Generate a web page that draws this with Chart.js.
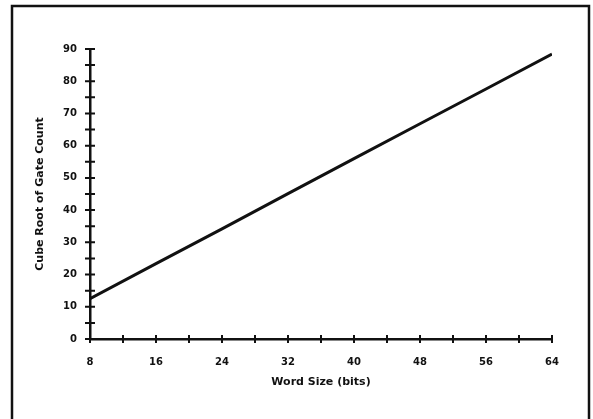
<!DOCTYPE html>
<html>
<head>
<meta charset="utf-8">
<script src="https://cdn.jsdelivr.net/npm/chart.js@4"></script>
<style>
  html, body { margin: 0; padding: 0; background: #fff; }
  #wrap { width: 593px; height: 419px; position: relative; }
</style>
</head>
<body>
<div id="wrap"><canvas id="chart" width="593" height="419"></canvas></div>
<script>
// ── data ────────────────────────────────────────────────────────────────
const wordSizes  = [8, 16, 24, 32, 40, 48, 56, 64];
const cubeRoots  = [12.5, 23.4, 34.2, 45.1, 56.0, 66.8, 77.6, 88.4];
const xLabelVals = [8, 16, 24, 32, 40, 48, 56, 64];
const yLabelVals = [0, 10, 20, 30, 40, 50, 60, 70, 80, 90];

const ink = '#111';
const tickFont = { family: 'DejaVu Sans', size: 10, weight: 'bold' };
const titleFont = { family: 'DejaVu Sans', size: 11, weight: 'bold' };

// frame round the whole figure
const framePlugin = {
  id: 'frame',
  beforeDraw(chart) {
    const c = chart.ctx;
    c.save();
    c.strokeStyle = ink;
    c.lineWidth = 2.5;
    c.beginPath();
    c.moveTo(12, 425);
    c.lineTo(12, 6);
    c.lineTo(589, 6);
    c.lineTo(589, 425);
    c.stroke();
    c.restore();
  }
};

// cross ticks through both axes
const crossTicks = {
  id: 'crossTicks',
  afterDatasetsDraw(chart) {
    const c = chart.ctx;
    const { x, y } = chart.scales;
    const area = chart.chartArea;
    c.save();
    c.strokeStyle = ink;
    c.lineWidth = 2;
    c.beginPath();
    y.ticks.forEach(t => {
      const py = y.getPixelForValue(t.value);
      c.moveTo(area.left - 5, py);
      c.lineTo(area.left + 5, py);
    });
    x.ticks.forEach(t => {
      const px = x.getPixelForValue(t.value);
      c.moveTo(px, area.bottom - 4);
      c.lineTo(px, area.bottom + 4);
    });
    c.stroke();
    c.restore();
  }
};

new Chart(document.getElementById('chart'), {
  type: 'line',
  data: {
    datasets: [{
      data: wordSizes.map((w, i) => ({ x: w, y: cubeRoots[i] })),
      borderColor: ink,
      borderWidth: 3,
      pointRadius: 0,
      tension: 0,
      fill: false,
    }]
  },
  options: {
    responsive: false,
    animation: false,
    layout: { padding: { top: 49, right: 41, left: 0, bottom: 0 } },
    plugins: { legend: { display: false }, tooltip: { enabled: false } },
    scales: {
      x: {
        type: 'linear',
        min: 8, max: 64,
        afterFit: s => { s.height = 80; },
        grid: { display: false, drawTicks: false },
        border: { display: true, color: ink, width: 2.5 },
        ticks: {
          stepSize: 4, autoSkip: false, maxRotation: 0, padding: 17,
          color: ink, font: tickFont,
          callback: v => xLabelVals.includes(v) ? String(v) : ''
        },
        title: {
          display: true, text: 'Word Size (bits)', color: ink, font: titleFont,
          padding: { top: 0, bottom: 30 }
        }
      },
      y: {
        min: 0, max: 90,
        afterFit: s => { s.width = 90; },
        grid: { display: false, drawTicks: false },
        border: { display: true, color: ink, width: 2.5 },
        ticks: {
          stepSize: 5, autoSkip: false, padding: 13,
          color: ink, font: tickFont,
          callback: v => yLabelVals.includes(v) ? String(v) : ''
        },
        title: {
          display: true, text: 'Cube Root of Gate Count', color: ink, font: titleFont,
          padding: { top: 34, bottom: 0 }
        }
      }
    }
  },
  plugins: [framePlugin, crossTicks]
});
</script>
</body>
</html>
